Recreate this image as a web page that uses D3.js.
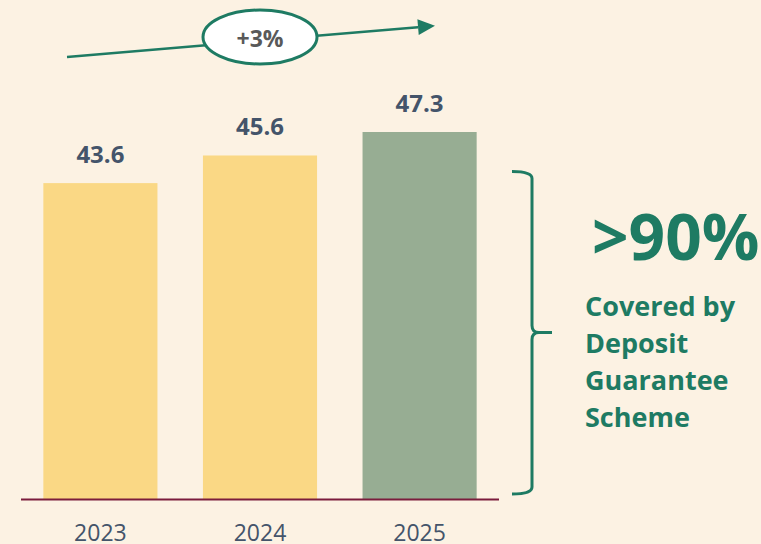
<!DOCTYPE html>
<html>
<head>
<meta charset="utf-8">
<script src="https://cdn.jsdelivr.net/npm/d3@7"></script>
<style>
  html, body { margin: 0; padding: 0; background: #FCF2E3; }
  svg { display: block; }
  text { font-family: "Open Sans", "Noto Sans", sans-serif; }
</style>
</head>
<body>
<div id="chart"></div>
<script>
// data
const years = ["2023", "2024", "2025"];
const values = [43.6, 45.6, 47.3];
const barColors = ["#FAD885", "#FAD885", "#97AD93"];
const growthLabel = "+3%";
const coverageHeadline = ">90%";
const coverageLines = ["Covered by", "Deposit", "Guarantee", "Scheme"];

var box = { width: 761, height: 544 };
const green = "#1E7B63";
const slate = "#44546A";

var svg = d3.select("#chart").append("svg")
    .attr("width", box.width)
    .attr("height", box.height);

svg.append("rect")
    .attr("width", box.width)
    .attr("height", box.height)
    .attr("fill", "#FCF2E3");

let x = d3.scaleBand()
    .domain(years)
    .range([21, 499])
    .paddingInner(0.285)
    .paddingOuter(0.14);

// axis does not start at zero in the original
let y = d3.scaleLinear()
    .domain([20.7, 47.3])
    .range([499.5, 132]);

svg.append("g").selectAll("rect")
    .data(values)
    .enter().append("rect")
    .attr("x", (d, i) => x(years[i]))
    .attr("y", d => y(d))
    .attr("width", x.bandwidth())
    .attr("height", d => y.range()[0] - y(d))
    .attr("fill", (d, i) => barColors[i]);

// value labels
svg.append("g").selectAll("text")
    .data(values)
    .enter().append("text")
    .attr("x", (d, i) => x(years[i]) + x.bandwidth() / 2)
    .attr("y", d => y(d) - 20)
    .attr("text-anchor", "middle")
    .attr("font-size", 24)
    .attr("font-weight", 700)
    .attr("fill", slate)
    .text(d => d.toFixed(1));

// baseline
svg.append("line")
    .attr("x1", x.range()[0])
    .attr("x2", x.range()[1])
    .attr("y1", 499.5)
    .attr("y2", 499.5)
    .attr("stroke", "#7B1C3C")
    .attr("stroke-width", 2);

// year labels
let xAxis = svg.append("g")
    .attr("transform", "translate(0,499.5)")
    .call(d3.axisBottom(x).tickSize(0).tickPadding(0));
xAxis.select(".domain").remove();
xAxis.selectAll("text")
    .attr("dy", null)
    .attr("y", 41.5)
    .attr("font-size", 23)
    .attr("font-family", "Open Sans")
    .attr("fill", slate);

// growth arrow
const p0 = [67, 57], tip = [435, 25.7];
const ang = Math.atan2(tip[1] - p0[1], tip[0] - p0[0]);
const headLen = 17, headW = 8;
const base = [tip[0] - headLen * Math.cos(ang), tip[1] - headLen * Math.sin(ang)];

svg.append("line")
    .attr("x1", p0[0]).attr("y1", p0[1])
    .attr("x2", base[0]).attr("y2", base[1])
    .attr("stroke", green)
    .attr("stroke-width", 2.5);

svg.append("path")
    .attr("d", d3.line()([
        tip,
        [base[0] + headW * Math.sin(ang), base[1] - headW * Math.cos(ang)],
        [base[0] - headW * Math.sin(ang), base[1] + headW * Math.cos(ang)]
    ]) + "Z")
    .attr("fill", green);

svg.append("ellipse")
    .attr("cx", 260)
    .attr("cy", 37)
    .attr("rx", 57)
    .attr("ry", 27)
    .attr("fill", "#FFF")
    .attr("stroke", green)
    .attr("stroke-width", 3);

svg.append("text")
    .attr("x", 260)
    .attr("y", 46.5)
    .attr("text-anchor", "middle")
    .attr("font-size", 23)
    .attr("font-weight", 700)
    .attr("fill", "#595959")
    .text(growthLabel);

// curly brace
let bx = 532, braceTop = 171.5, braceBottom = 494, braceMid = 332.5;
let brace = d3.path();
brace.moveTo(512, braceTop);
brace.quadraticCurveTo(bx, braceTop, bx, braceTop + 7);
brace.lineTo(bx, braceMid - 7);
brace.quadraticCurveTo(bx, braceMid, bx + 7, braceMid);
brace.lineTo(552, braceMid);
brace.moveTo(bx + 7, braceMid);
brace.quadraticCurveTo(bx, braceMid, bx, braceMid + 7);
brace.lineTo(bx, braceBottom - 7);
brace.quadraticCurveTo(bx, braceBottom, 512, braceBottom);

svg.append("path")
    .attr("d", brace.toString())
    .attr("fill", "none")
    .attr("stroke", green)
    .attr("stroke-width", 3);

svg.append("text")
    .attr("x", 592)
    .attr("y", 260)
    .attr("font-size", 64)
    .attr("font-weight", 700)
    .attr("fill", green)
    .text(coverageHeadline);

svg.append("g").selectAll("text")
    .data(coverageLines)
    .enter().append("text")
    .attr("x", 585)
    .attr("y", (d, i) => 316 + i * 37)
    .attr("font-size", 27)
    .attr("font-weight", 700)
    .attr("fill", green)
    .text(d => d);
</script>
</body>
</html>
